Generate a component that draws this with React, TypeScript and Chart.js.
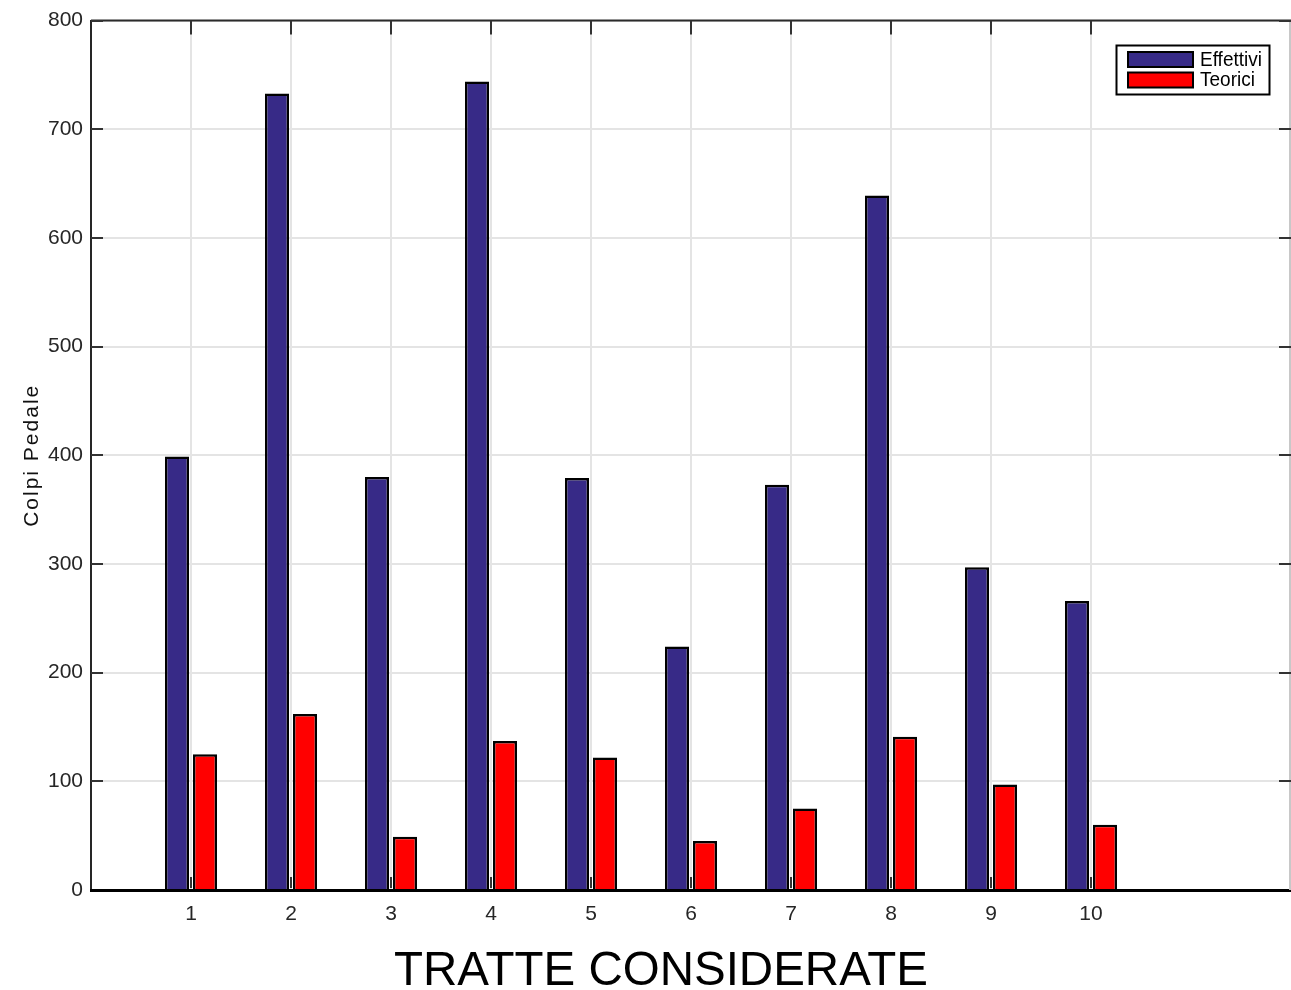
import React, { useEffect, useRef } from 'react';
import { Chart, registerables } from 'chart.js';

Chart.register(...registerables);

const categories = [1, 2, 3, 4, 5, 6, 7, 8, 9, 10];
const effettivi = [399, 733, 380, 744, 379, 224, 373, 639, 297, 266];
const teorici = [125, 162, 49, 137, 122, 45, 75, 141, 97, 60];
const seriesLabels = ['Effettivi', 'Teorici'];
const seriesColors = ['#372a87', '#ff0000'];
const xTitle = 'TRATTE CONSIDERATE';
const yTitle = 'Colpi Pedale';
const xRange = [0, 12];
const yRange = [0, 800];
const yStep = 100;

const FONT = '"Liberation Sans", Arial, Helvetica, sans-serif';

const framePlugin = {
  id: 'frame',
  afterDraw(chart: any) {
    const { ctx, chartArea } = chart;
    const { left, right, top, bottom } = chartArea;
    const xs = chart.scales.x;
    const ys = chart.scales.y;
    ctx.save();
    // right edge light line
    ctx.strokeStyle = '#c8c8c8';
    ctx.lineWidth = 2;
    ctx.beginPath();
    ctx.moveTo(right - 1, top);
    ctx.lineTo(right - 1, bottom);
    ctx.stroke();
    // top line
    ctx.strokeStyle = '#2b2b2b';
    ctx.lineWidth = 2;
    ctx.beginPath();
    ctx.moveTo(left, top);
    ctx.lineTo(right, top);
    ctx.stroke();
    // inner ticks
    ctx.strokeStyle = '#333333';
    ctx.lineWidth = 2;
    xs.ticks.forEach((t: any) => {
      const px = Math.round(xs.getPixelForValue(t.value));
      ctx.beginPath();
      ctx.moveTo(px, top);
      ctx.lineTo(px, top + 14);
      ctx.moveTo(px, bottom - 2);
      ctx.lineTo(px, bottom - 13);
      ctx.stroke();
    });
    ys.ticks.forEach((t: any) => {
      if (t.value === yRange[0]) return;
      const py = Math.round(ys.getPixelForValue(t.value));
      ctx.beginPath();
      ctx.moveTo(left, py);
      ctx.lineTo(left + 12, py);
      ctx.moveTo(right, py);
      ctx.lineTo(right - 12, py);
      ctx.stroke();
    });
    // legend
    const lx = 1116.5, ly = 45.5, lw = 153, lh = 49;
    ctx.fillStyle = '#ffffff';
    ctx.fillRect(lx, ly, lw, lh);
    ctx.strokeStyle = '#000000';
    ctx.lineWidth = 2;
    ctx.strokeRect(lx, ly, lw, lh);
    ctx.font = `20px ${FONT}`;
    ctx.textBaseline = 'middle';
    ctx.textAlign = 'left';
    chart.data.datasets.forEach((ds: any, i: number) => {
      const sy = 52 + i * 20.5;
      ctx.fillStyle = ds.backgroundColor;
      ctx.fillRect(1128, sy, 65, 15);
      ctx.strokeStyle = '#000000';
      ctx.lineWidth = 2;
      ctx.strokeRect(1128, sy, 65, 15);
      ctx.fillStyle = '#000000';
      ctx.save();
      ctx.translate(1200, sy + 8);
      ctx.scale(0.95, 1);
      ctx.fillText(ds.label, 0, 0);
      ctx.restore();
    });
    // x title
    ctx.fillStyle = '#000000';
    ctx.font = `47.5px ${FONT}`;
    ctx.textAlign = 'center';
    ctx.textBaseline = 'alphabetic';
    ctx.fillText(xTitle, 661, 985);
    // y title
    ctx.save();
    ctx.translate(38, (top + bottom) / 2);
    ctx.rotate(-Math.PI / 2);
    ctx.font = `21px ${FONT}`;
    (ctx as any).letterSpacing = '2px';
    ctx.textAlign = 'center';
    ctx.textBaseline = 'alphabetic';
    ctx.fillStyle = '#111111';
    ctx.fillText(yTitle, 0, 0);
    ctx.restore();
    ctx.restore();
  },
};

export default function App() {
  const ref = useRef<HTMLCanvasElement>(null);
  useEffect(() => {
    document.body.style.margin = '0';
    const canvas = ref.current!;
    const chart = new Chart(canvas, {
      type: 'bar',
      data: {
        datasets: [
          {
            label: seriesLabels[0],
            data: categories.map((c, i) => ({ x: c, y: effettivi[i] })),
            backgroundColor: seriesColors[0],
            borderColor: '#000000',
            borderWidth: 2.5,
          },
          {
            label: seriesLabels[1],
            data: categories.map((c, i) => ({ x: c, y: teorici[i] })),
            backgroundColor: seriesColors[1],
            borderColor: '#000000',
            borderWidth: 2.5,
          },
        ],
      },
      options: {
        animation: false,
        responsive: false,
        maintainAspectRatio: false,
        categoryPercentage: 0.56,
        barPercentage: 0.86,
        layout: { padding: { top: 19, right: 0, left: 0, bottom: 0 } },
        plugins: { legend: { display: false }, tooltip: { enabled: false } },
        scales: {
          x: {
            type: 'linear',
            min: xRange[0],
            max: xRange[1],
            offset: false,
            afterBuildTicks: (scale: any) => {
              scale.ticks = categories.map((v) => ({ value: v }));
            },
            afterFit: (scale: any) => {
              scale.height = 100;
            },
            grid: { color: '#e4e4e4', lineWidth: 2, drawTicks: false, offset: false },
            border: { color: '#000000', width: 3, z: 1 },
            ticks: {
              font: { family: FONT, size: 21 },
              color: '#262626',
              padding: 12,
              maxRotation: 0,
              autoSkip: false,
              callback: (v: any) => String(v),
            },
          },
          y: {
            type: 'linear',
            min: yRange[0],
            max: yRange[1],
            afterFit: (scale: any) => {
              scale.width = 91;
            },
            grid: { color: '#e4e4e4', lineWidth: 2, drawTicks: false },
            border: { color: '#262626', width: 2 },
            ticks: {
              stepSize: yStep,
              font: { family: FONT, size: 21 },
              color: '#262626',
              padding: 8,
            },
          },
        },
      },
      plugins: [framePlugin],
    });
    return () => chart.destroy();
  }, []);
  return (
    <div style={{ position: 'absolute', left: 0, top: 0, width: 1291, height: 990 }}>
      <canvas ref={ref} width={1291} height={990} style={{ width: 1291, height: 990 }} />
    </div>
  );
}
